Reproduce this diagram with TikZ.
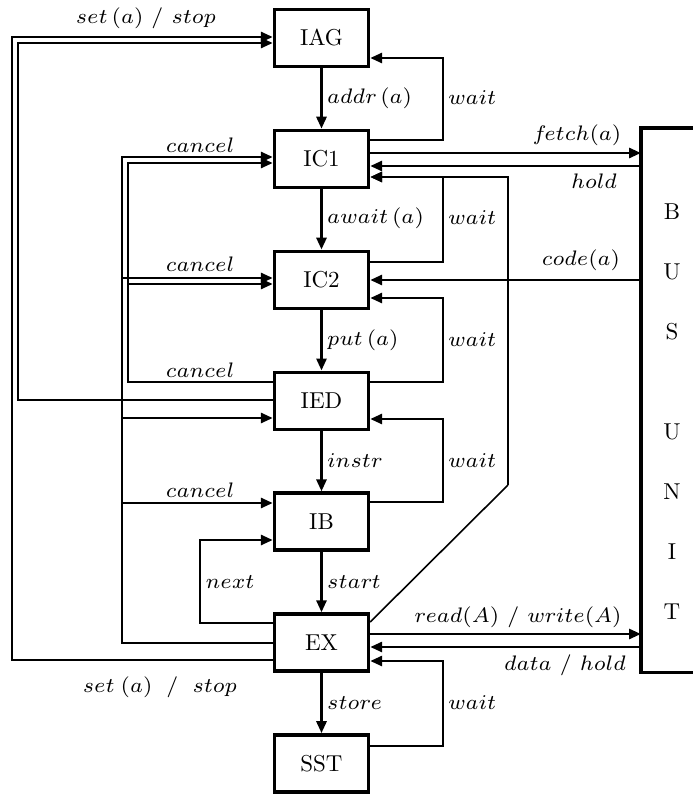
\documentclass[tikz,border=0pt]{standalone}
\usetikzlibrary{arrows.meta}
\font\Li=cmmi7 at 21pt
\font\Lr=cmr7 at 21pt
\font\Bx=cmr10 at 23pt
\newcommand\itw[1]{{\Li #1}}
\begin{document}
\begin{tikzpicture}[x=1pt,y=-1pt,
  box/.style={draw, line width=3.4pt, minimum width=94pt, minimum height=57pt, inner sep=0pt, font=\Bx},
  conn/.style={line width=2.8pt},
  arr/.style={conn, -{Triangle[length=12pt,width=10pt]}},
  thinline/.style={line width=1.6pt},
  lbl/.style={font=\Lr, inner sep=0pt},
  busl/.style={font=\Bx, inner sep=0pt}]
\useasboundingbox (0,0) rectangle (693,795);
% boxes
\node[box] (IAG) at (321.5,38) {IAG};
\node[box] (IC1) at (321.5,158.9) {IC1};
\node[box] (IC2) at (321.5,279.8) {IC2};
\node[box] (IED) at (321.5,400.7) {IED};
\node[box] (IB)  at (321.5,521.6) {IB};
\node[box] (EX)  at (321.5,642.5) {EX};
\node[box] (SST) at (321.5,763.4) {SST};
% bus unit
\node[inner sep=0pt, minimum width=60pt, minimum height=544pt, anchor=north west] (BUS) at (641,128) {};
\draw[line width=3.4pt] (BUS.north east) -- (BUS.north west) -- (BUS.south west) -- (BUS.south east);
\node[busl] (b1) at (672,212) {B};
\node[busl] (b2) at (672,272) {U};
\node[busl] (b3) at (672,332) {S};
\node[busl] (b4) at (672,432) {U};
\node[busl] (b5) at (672,492) {N};
\node[busl] (b6) at (672,552) {I};
\node[busl] (b7) at (672,612) {T};
% down arrows
\draw[arr] (IAG.south) -- (IC1.north);
\draw[arr] (IC1.south) -- (IC2.north);
\draw[arr] (IC2.south) -- (IED.north);
\draw[arr] (IED.south) -- (IB.north);
\draw[arr] (IB.south) -- (EX.north);
\draw[arr] (EX.south) -- (SST.north);
% left lanes
\coordinate (k1) at (122,278);
\coordinate (k2) at (122,418);
\coordinate (k3) at (122,503);
\coordinate (k4) at (128,284);
\draw[arr] (EX.west |- 0,660) -- (12,660) -- (12,37) -- (IAG.west |- 0,37);
\draw[arr] (IED.west |- 0,400) -- (18,400) -- (18,43) -- (IAG.west |- 0,43);
\draw[arr] (EX.west |- 0,643) -- (122,643) -- (122,157) -- (IC1.west |- 0,157);
\draw[arr] (k1) -- (IC2.west |- k1);
\draw[arr] (k2) -- (IED.west |- k2);
\draw[arr] (k3) -- (IB.west |- k3);
\draw[arr] (IED.west |- 0,382) -- (128,382) -- (128,163) -- (IC1.west |- 0,163);
\draw[arr] (k4) -- (IC2.west |- k4);
\draw[arr] (EX.west |- 0,623) -- (200,623) -- (200,540) -- (IB.west |- 0,540);
% wait loops
\draw[arr] (IC1.east |- 0,140) -- (443,140) -- (443,58) -- (IAG.east |- 0,58);
\draw[arr] (IC2.east |- 0,262) -- (443,262) -- (443,177) -- (IC1.east |- 0,177);
\draw[arr] (IED.east |- 0,382) -- (443,382) -- (443,298) -- (IC2.east |- 0,298);
\draw[arr] (IB.east |- 0,502) -- (443,502) -- (443,419) -- (IED.east |- 0,419);
\draw[arr] (SST.east |- 0,746) -- (443,746) -- (443,661) -- (EX.east |- 0,661);
% bus connections
\draw[arr] (IC1.east |- 0,153) -- (BUS.west |- 0,153);
\draw[arr] (BUS.west |- 0,166) -- (IC1.east |- 0,166);
\draw[arr] (BUS.west |- 0,280) -- (IC2.east |- 0,280);
\draw[arr] (EX.east |- 0,634) -- (BUS.west |- 0,634);
\draw[arr] (BUS.west |- 0,647) -- (EX.east |- 0,647);
% EX to IC1 diagonal
\coordinate (D1) at (508,485);
\draw[thinline] (EX.east |- 0,622) -- (D1);
\draw[arr] (D1) -- (508,177) -- (IC1.east |- 0,177);
% labels
\node[lbl] (t1) at (146,18) {\itw{set}\,(\itw{a}) / \itw{stop}};
\node[lbl] (t2) at (160,687) {\itw{set}\hspace{6pt}(\itw{a})\hspace{6pt} / \hspace{6pt}\itw{stop}};
\node[lbl] (t3) at (200,145) {\itw{cancel}};
\node[lbl] (t4) at (200,264) {\itw{cancel}};
\node[lbl] (t5) at (200,370) {\itw{cancel}};
\node[lbl] (t6) at (200,490) {\itw{cancel}};
\node[lbl] (t7) at (230,582) {\itw{next}};
\node[lbl, anchor=west] (t8) at (327,98) {\itw{addr}\,(\itw{a})};
\node[lbl, anchor=west] (t9) at (327,218) {\itw{await}\,(\itw{a})};
\node[lbl, anchor=west] (t10) at (327,340) {\itw{put}\,(\itw{a})};
\node[lbl, anchor=west] (t11) at (327,461) {\itw{instr}};
\node[lbl, anchor=west] (t12) at (327,582) {\itw{start}};
\node[lbl, anchor=west] (t13) at (327,703) {\itw{store}};
\node[lbl, anchor=west] (w1) at (448,98) {\itw{wait}};
\node[lbl, anchor=west] (w2) at (448,218) {\itw{wait}};
\node[lbl, anchor=west] (w3) at (448,340) {\itw{wait}};
\node[lbl, anchor=west] (w4) at (448,461) {\itw{wait}};
\node[lbl, anchor=west] (w5) at (448,703) {\itw{wait}};
\node[lbl] (f1) at (577,135) {\itw{fetch}(\itw{a})};
\node[lbl] (f2) at (594,181) {\itw{hold}};
\node[lbl] (f3) at (581,260) {\itw{code}(\itw{a})};
\node[lbl] (f4) at (518,617) {\itw{read}(\itw{A}) / \itw{write}(\itw{A})};
\node[lbl] (f5) at (565,665) {\itw{data} / \itw{hold}};
\end{tikzpicture}
\end{document}
